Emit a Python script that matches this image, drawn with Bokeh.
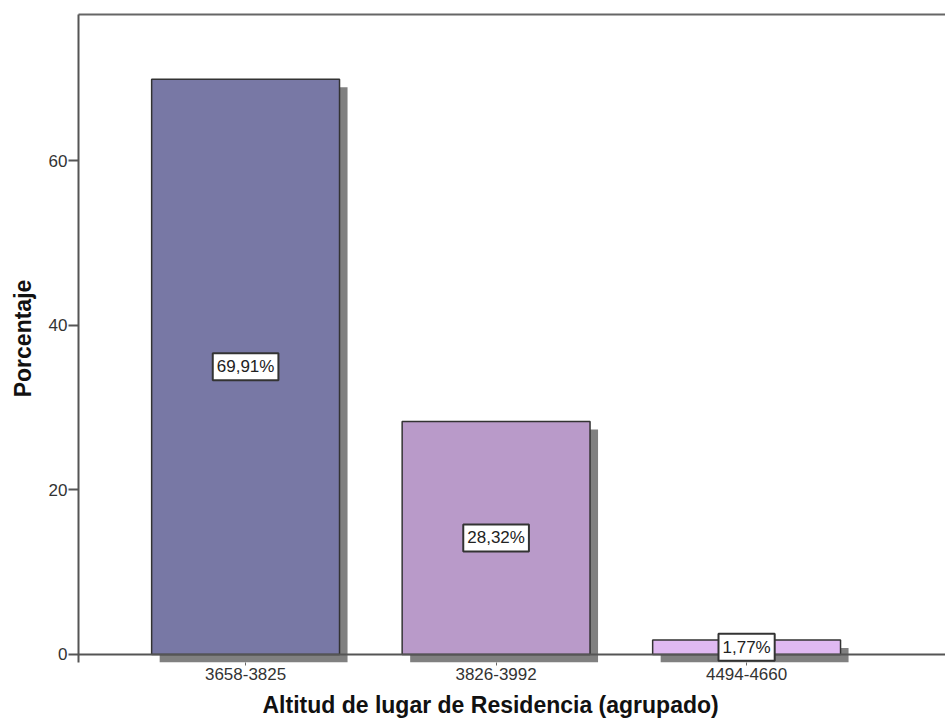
from bokeh.plotting import figure
from bokeh.models import (Range1d, FixedTicker, LinearAxis, Label, Span,
                          ColumnDataSource, Title)
from bokeh.embed import file_html
from bokeh.resources import INLINE

# Altitude groups and share of respondents (%)
categories = ["3658-3825", "3826-3992", "4494-4660"]
percentages = [69.91, 28.32, 1.77]
value_labels = ["69,91%", "28,32%", "1,77%"]
bar_colors = ["#7878a5", "#b99ac9", "#e0b9f2"]
y_ticks = [0, 20, 40, 60]

positions = [1, 2, 3]
bar_width = 0.75
shadow_dx = 0.032   # drop-shadow offset, x data units
shadow_dy = 0.974   # drop-shadow offset, y data units

FONT = "Liberation Sans"

p = figure(width=945, height=724, output_backend="svg", toolbar_location=None,
           x_range=Range1d(0.333, 3.794), y_range=Range1d(-shadow_dy, 77.78),
           min_border_left=78, min_border_top=14, min_border_bottom=0,
           min_border_right=0)
p.outline_line_color = None
p.grid.visible = False
p.background_fill_color = "white"
p.border_fill_color = "white"

src = ColumnDataSource(dict(
    x=positions,
    top=percentages,
    color=bar_colors,
    left=[x - bar_width / 2 for x in positions],
    right=[x + bar_width / 2 for x in positions],
    sleft=[x - bar_width / 2 + shadow_dx for x in positions],
    sright=[x + bar_width / 2 + shadow_dx for x in positions],
    stop=[v - shadow_dy for v in percentages],
))

# drop shadows behind the bars
p.quad(left="sleft", right="sright", top="stop", bottom=-shadow_dy,
       source=src, fill_color="#808080", line_color=None)
# bars
p.quad(left="left", right="right", top="top", bottom=0, source=src,
       fill_color="color", line_color="#333333", line_width=1.5)

# baseline at zero
p.add_layout(Span(location=0, dimension="width", line_color="#555555",
                  line_width=2))

# x axis
xa = p.xaxis[0]
xa.ticker = FixedTicker(ticks=positions)
xa.major_label_overrides = {pos: c for pos, c in zip(positions, categories)}
xa.axis_line_color = None
xa.major_tick_in = 0
xa.major_tick_out = 3
xa.major_tick_line_color = "#666666"
xa.minor_tick_line_color = None
xa.major_label_text_font = FONT
xa.major_label_text_font_size = "17px"
xa.major_label_text_color = "#333333"
xa.major_label_standoff = 2

# x title, left-aligned under the frame
p.add_layout(Title(text="Altitud de lugar de Residencia (agrupado)",
                   align="left", offset=184, text_font=FONT,
                   text_font_style="bold", text_font_size="23px",
                   text_color="#111111", standoff=14), "below")

# y axis
ya = p.yaxis[0]
ya.ticker = FixedTicker(ticks=y_ticks)
ya.axis_line_color = "#555555"
ya.axis_line_width = 2
ya.major_tick_in = 0
ya.major_tick_out = 10
ya.major_tick_line_color = "#555555"
ya.major_tick_line_width = 2
ya.minor_tick_line_color = None
ya.major_label_text_font = FONT
ya.major_label_text_font_size = "17px"
ya.major_label_text_color = "#333333"
ya.major_label_standoff = 1
ya.axis_label = "Porcentaje"
ya.axis_label_text_font = FONT
ya.axis_label_text_font_style = "bold"
ya.axis_label_text_font_size = "23px"
ya.axis_label_text_color = "#111111"
ya.axis_label_standoff = 10

# top border line
top_axis = LinearAxis(ticker=FixedTicker(ticks=[]), axis_line_color="#666666",
                      axis_line_width=2, major_tick_line_color=None,
                      minor_tick_line_color=None,
                      major_label_text_font_size="0px")
p.add_layout(top_axis, "above")

# value labels in boxes at the middle of each bar
for x, v, t in zip(positions, percentages, value_labels):
    p.add_layout(Label(x=x, y=v / 2, text=t, text_align="center",
                       text_baseline="middle", text_font=FONT,
                       text_font_size="17px", text_color="#222222",
                       background_fill_color="white",
                       border_line_color="#333333", border_line_width=2,
                       padding=4))

open("out.html", "w").write(file_html(p, INLINE))
